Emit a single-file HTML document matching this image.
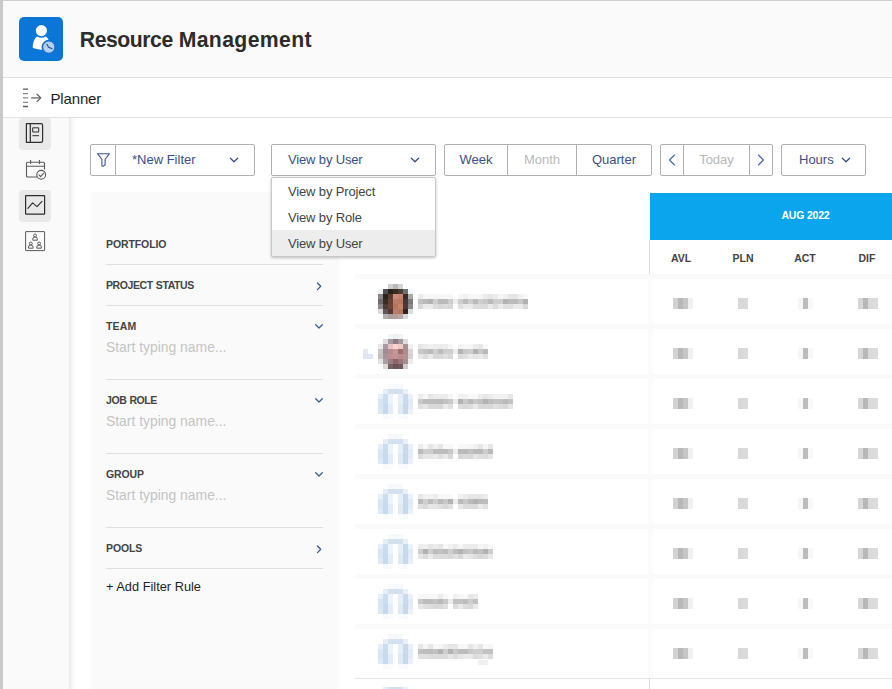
<!DOCTYPE html>
<html><head><meta charset="utf-8">
<style>
*{box-sizing:border-box;margin:0;padding:0}
html,body{width:892px;height:689px;overflow:hidden;background:#fff;font-family:"Liberation Sans",sans-serif;}
#root{position:relative;width:892px;height:689px;overflow:hidden;background:#fff}
.abs{position:absolute}
#leftbar{left:0;top:0;width:3px;height:689px;background:#c9c9c9}
#topbar{left:0;top:0;width:892px;height:1px;background:#cfcfcf}
#header{left:3px;top:1px;width:889px;height:77px;background:#fafafa;border-bottom:1px solid #e1e1e1}
#appicon{left:19px;top:17px;width:44px;height:44px;border-radius:5px;background:#0a76d8}
#title{left:79.8px;top:27px;font-size:21.2px;font-weight:bold;color:#2c2c2c;white-space:nowrap;line-height:26px}
#planbar{left:3px;top:78px;width:889px;height:40px;background:#fff;border-bottom:1px solid #e1e1e1}
#planner{left:50.5px;top:90px;font-size:15px;color:#1e1e1e;line-height:18px;letter-spacing:-0.15px}
#side{left:3px;top:118px;width:66px;height:571px;background:#fafafa}
#sideshadow{left:69px;top:118px;width:7px;height:571px;background:linear-gradient(to right,rgba(0,0,0,.09),rgba(0,0,0,.03) 40%,rgba(0,0,0,0))}
.sbtn{left:19px;width:32px;height:32px;border-radius:4px;background:#e9e9e9}
.btn{top:144px;height:32px;border:1px solid #b0b0b0;background:#fff;border-radius:2px;font-size:13px;color:#3b4f85;line-height:30px;white-space:nowrap}
.btn span{position:absolute;top:0}
.dis{color:#b8b8b8}
#fpanel{left:91px;top:192px;width:248px;height:497px;background:#fafafa}
.flabel{left:106px;font-size:10.5px;font-weight:bold;color:#444;line-height:12px;letter-spacing:-0.1px}
.fline{left:106px;width:217px;height:1px;background:#dfdfdf}
.fph{left:106px;font-size:13.9px;color:#c4c4c4;line-height:16px}
#menu{left:271px;top:177px;width:165px;height:80px;background:#fff;border:1px solid #c9c9c9;border-radius:2px;box-shadow:0 1px 3px rgba(0,0,0,.25)}
.mi{left:0;width:163px;height:26px;font-size:13px;color:#444;line-height:27px;padding-left:16px;letter-spacing:-0.15px}
#bluehd{left:650px;top:193px;width:242px;height:47px;background:#0ba5ee}
#aug{left:650px;top:193px;width:311px;text-align:center;font-size:10.5px;font-weight:bold;color:#fff;line-height:45px;letter-spacing:-0.2px}
.col{top:252px;width:62px;text-align:center;font-size:10.5px;font-weight:bold;color:#444;line-height:13px}
</style></head><body><div id="root">
<div class="abs" id="header"></div>
<div class="abs" id="planbar"></div>
<div class="abs" id="topbar"></div>
<div class="abs" id="appicon">
<svg width="44" height="44" viewBox="0 0 44 44">
<circle cx="22.4" cy="13.6" r="5.6" fill="#fff"/>
<path d="M13.7 30.2 C14 25 15.6 21 18.2 19.6 C20.6 21.2 24.2 21.2 26.6 19.6 C29.6 21 31 25.5 31 31 L31 33.5 C25 33.3 19 32.6 13.9 31 Z" fill="#fff"/>
<circle cx="29.8" cy="30.1" r="7.3" fill="#0a76d8"/>
<circle cx="29.8" cy="30.1" r="6.1" fill="#b1d0f3" stroke="#1a63b8" stroke-width="0.9"/>
<path d="M27.9 27.2 L29.6 30.2 L33.1 31.7" fill="none" stroke="#1f4f8c" stroke-width="1.1" stroke-linecap="round" stroke-linejoin="round"/>
</svg></div>
<div class="abs" id="title"><span style="letter-spacing:-0.45px">Resource</span> <span style="letter-spacing:0.38px">Management</span></div>
<svg class="abs" style="left:14px;top:80px" width="50" height="36" viewBox="0 0 50 36">
<g fill="none">
<path d="M9 9.2h5M9 26.5h5" stroke="#5c5c5c" stroke-width="1.3"/>
<path d="M9 13.6h5M9 17.9h5M9 22.3h5" stroke="#8c8c8c" stroke-width="1.3"/>
<path d="M17.2 17.9h9.2" stroke="#8a8a8a" stroke-width="1.7"/>
<path d="M23 14.3l3.800000000000001 3.6l-3.800000000000001 3.6999999999999997" stroke="#5c5c5c" stroke-width="1.2" stroke-linejoin="round" stroke-linecap="round"/>
</g></svg>
<div class="abs" id="planner">Planner</div>
<div class="abs" id="side"></div><div class="abs" id="sideshadow"></div>
<div class="abs sbtn" style="top:118px"></div>
<div class="abs sbtn" style="top:190px"></div>
<!-- side icons -->
<svg class="abs" style="left:19px;top:118px" width="32" height="140" viewBox="0 0 32 140">
<g fill="none" stroke="#2d2d2d" stroke-width="1.2" stroke-linejoin="round">
<path d="M7.4 5.6h14.6a1.6 1.6 0 0 1 1.6 1.6v15.6a1.6 1.6 0 0 1 -1.6 1.6h-14.6z"/>
<path d="M11.3 5.6v18.8"/>
<rect x="13.7" y="9.8" width="6" height="4.2" stroke-width="1"/>
<path d="M13.4 17.7h6.6" stroke-width="1"/>
</g>
<g fill="none" stroke="#5a5a5a" stroke-width="1.1" stroke-linejoin="round" transform="translate(0,1.5)">
<path d="M25.5 50v-6.2a1 1 0 0 0 -1-1h-16a1 1 0 0 0 -1 1v12.7a1 1 0 0 0 1 1h9.5"/>
<path d="M11.6 40.5v4M20.5 40.5v4M7.5 46.7h18"/>
<circle cx="22.2" cy="55.3" r="4.4" fill="#fafafa"/>
<path d="M20 55.4l1.6 1.7l3-3.3" stroke-linecap="round"/>
</g>
<g fill="none" stroke="#2d2d2d" stroke-width="1.2" stroke-linejoin="round">
<rect x="6.6" y="77.6" width="19" height="18.6" rx="0.4"/>
<path d="M8.9 90.3l4.7-5.5l4.4 3.8l5-5.2" stroke-width="1.1" stroke-linecap="round"/>
</g>
<g fill="none" stroke="#5a5a5a" stroke-width="1" stroke-linejoin="round">
<rect x="6.6" y="113.6" width="19" height="19" rx="0.4"/>
<circle cx="16.05" cy="117.5" r="1.45"/><path d="M13.75 122.2v-1.1a2.3 2.1 0 0 1 4.6 0v1.1z"/><circle cx="11.8" cy="125.5" r="1.45"/><path d="M9.5 130.2v-1.1a2.3 2.1 0 0 1 4.6 0v1.1z"/><circle cx="20.1" cy="125.5" r="1.45"/><path d="M17.8 130.2v-1.1a2.3 2.1 0 0 1 4.6 0v1.1z"/>
</g>
</svg>
<!-- filter panel -->
<div class="abs" id="fpanel"></div>
<div class="abs flabel" style="top:238px">PORTFOLIO</div>
<div class="abs fline" style="top:264px"></div>
<div class="abs flabel" style="top:279px;letter-spacing:-0.4px;word-spacing:0.5px">PROJECT STATUS</div>
<div class="abs fline" style="top:305px"></div>
<div class="abs flabel" style="top:320px;letter-spacing:0.15px">TEAM</div>
<div class="abs fph" style="top:339px">Start typing name...</div>
<div class="abs fline" style="top:379px"></div>
<div class="abs flabel" style="top:394px;letter-spacing:-0.4px;word-spacing:0.5px">JOB ROLE</div>
<div class="abs fph" style="top:413px">Start typing name...</div>
<div class="abs fline" style="top:453px"></div>
<div class="abs flabel" style="top:468px">GROUP</div>
<div class="abs fph" style="top:487px">Start typing name...</div>
<div class="abs fline" style="top:527px"></div>
<div class="abs flabel" style="top:542px">POOLS</div>
<div class="abs fline" style="top:568px"></div>
<div class="abs" style="left:106px;top:578.6px;font-size:12.8px;color:#1e1e1e;line-height:16px">+ Add Filter Rule</div>
<svg class="abs" style="left:310px;top:276px" width="18" height="290" viewBox="0 0 18 290">
<g fill="none" stroke="#3a5a98" stroke-width="1.3" stroke-linecap="round" stroke-linejoin="round">
<path d="M7.5 7l3.2 3.300000000000001l-3.2 3.300000000000001"/>
<path d="M5.7 48.800000000000004l3.3 3.2l3.3-3.2"/>
<path d="M5.7 122.80000000000001l3.3 3.2l3.3-3.2"/>
<path d="M5.7 196.8l3.3 3.2l3.3-3.2"/>
<path d="M7.5 270l3.2 3.300000000000001l-3.2 3.300000000000001"/>
</g></svg>
<!-- table -->
<div class="abs" style="left:648px;top:276px;width:5px;height:402px;background:#fbfbfb"></div>
<div class="abs" style="left:355px;top:678px;width:537px;height:1px;background:#e6e6e6"></div>
<div class="abs" style="left:649px;top:678px;width:1px;height:11px;background:#d6d6d6"></div>
<div class="abs" style="left:649px;top:240px;width:1px;height:36px;background:#dcdcdc"></div>
<svg class="abs" style="left:0;top:0" width="892" height="689" viewBox="0 0 892 689" shape-rendering="crispEdges">
<g filter="url(#bl)">
<rect x="355" y="274" width="537" height="5" fill="#fafafa"/><rect x="355" y="324" width="537" height="5" fill="#fafafa"/><rect x="355" y="374" width="537" height="5" fill="#fafafa"/><rect x="355" y="424" width="537" height="5" fill="#fafafa"/><rect x="355" y="474" width="537" height="5" fill="#fafafa"/><rect x="355" y="524" width="537" height="5" fill="#fafafa"/><rect x="355" y="574" width="537" height="5" fill="#fafafa"/><rect x="355" y="624" width="537" height="5" fill="#fafafa"/><rect x="388" y="284" width="5" height="5" fill="#d0d0d0"/><rect x="393" y="284" width="5" height="5" fill="#b8b8b8"/><rect x="398" y="284" width="5" height="5" fill="#d4d4d4"/><rect x="378" y="289" width="5" height="5" fill="#f0f0f0"/><rect x="383" y="289" width="5" height="5" fill="#505050"/><rect x="388" y="289" width="5" height="5" fill="#2a2018"/><rect x="393" y="289" width="5" height="5" fill="#3a2a22"/><rect x="398" y="289" width="5" height="5" fill="#4a3a34"/><rect x="403" y="289" width="5" height="5" fill="#707070"/><rect x="408" y="289" width="5" height="5" fill="#f4f4f4"/><rect x="378" y="294" width="5" height="5" fill="#8a8686"/><rect x="383" y="294" width="5" height="5" fill="#2a201c"/><rect x="388" y="294" width="5" height="5" fill="#5a3a30"/><rect x="393" y="294" width="5" height="5" fill="#c88c78"/><rect x="398" y="294" width="5" height="5" fill="#c08470"/><rect x="403" y="294" width="5" height="5" fill="#3a2a26"/><rect x="408" y="294" width="5" height="5" fill="#a8a8a8"/><rect x="378" y="299" width="5" height="5" fill="#6e6a6a"/><rect x="383" y="299" width="5" height="5" fill="#3a2c28"/><rect x="388" y="299" width="5" height="5" fill="#6a4030"/><rect x="393" y="299" width="5" height="5" fill="#b87c68"/><rect x="398" y="299" width="5" height="5" fill="#b87864"/><rect x="403" y="299" width="5" height="5" fill="#4a3430"/><rect x="408" y="299" width="5" height="5" fill="#7a7a7a"/><rect x="378" y="304" width="5" height="5" fill="#8c8888"/><rect x="383" y="304" width="5" height="5" fill="#4a3c36"/><rect x="388" y="304" width="5" height="5" fill="#6e4434"/><rect x="393" y="304" width="5" height="5" fill="#b4745e"/><rect x="398" y="304" width="5" height="5" fill="#c4846c"/><rect x="403" y="304" width="5" height="5" fill="#503834"/><rect x="408" y="304" width="5" height="5" fill="#8a8a8a"/><rect x="378" y="309" width="5" height="5" fill="#dcdada"/><rect x="383" y="309" width="5" height="5" fill="#605654"/><rect x="388" y="309" width="5" height="5" fill="#5a3630"/><rect x="393" y="309" width="5" height="5" fill="#b87e6a"/><rect x="398" y="309" width="5" height="5" fill="#b47862"/><rect x="403" y="309" width="5" height="5" fill="#302422"/><rect x="408" y="309" width="5" height="5" fill="#dcdcdc"/><rect x="383" y="314" width="5" height="5" fill="#b0b0b0"/><rect x="388" y="314" width="5" height="5" fill="#a8a0a0"/><rect x="393" y="314" width="5" height="5" fill="#b49c94"/><rect x="398" y="314" width="5" height="5" fill="#b4a8a4"/><rect x="403" y="314" width="5" height="5" fill="#d8d8d8"/><rect x="388" y="334" width="5" height="5" fill="#f4f4f4"/><rect x="393" y="334" width="5" height="5" fill="#f0f0f0"/><rect x="398" y="334" width="5" height="5" fill="#f4f4f4"/><rect x="383" y="339" width="5" height="5" fill="#e0dce0"/><rect x="388" y="339" width="5" height="5" fill="#a898a0"/><rect x="393" y="339" width="5" height="5" fill="#8c7c84"/><rect x="398" y="339" width="5" height="5" fill="#a898a0"/><rect x="403" y="339" width="5" height="5" fill="#e0dce0"/><rect x="378" y="344" width="5" height="5" fill="#e8e8e8"/><rect x="383" y="344" width="5" height="5" fill="#a49ca0"/><rect x="388" y="344" width="5" height="5" fill="#e8c0c0"/><rect x="393" y="344" width="5" height="5" fill="#f8d4d0"/><rect x="398" y="344" width="5" height="5" fill="#f0c8c4"/><rect x="403" y="344" width="5" height="5" fill="#a89094"/><rect x="408" y="344" width="5" height="5" fill="#f0f0f0"/><rect x="378" y="349" width="5" height="5" fill="#c8c4c8"/><rect x="383" y="349" width="5" height="5" fill="#a08c90"/><rect x="388" y="349" width="5" height="5" fill="#b88c8c"/><rect x="393" y="349" width="5" height="5" fill="#c49894"/><rect x="398" y="349" width="5" height="5" fill="#9c7070"/><rect x="403" y="349" width="5" height="5" fill="#b08c8c"/><rect x="408" y="349" width="5" height="5" fill="#d8d4d8"/><rect x="378" y="354" width="5" height="5" fill="#c4c0c4"/><rect x="383" y="354" width="5" height="5" fill="#a89498"/><rect x="388" y="354" width="5" height="5" fill="#c09090"/><rect x="393" y="354" width="5" height="5" fill="#c09494"/><rect x="398" y="354" width="5" height="5" fill="#bc8c8c"/><rect x="403" y="354" width="5" height="5" fill="#b89090"/><rect x="408" y="354" width="5" height="5" fill="#d4d0d4"/><rect x="378" y="359" width="5" height="5" fill="#e4e4e4"/><rect x="383" y="359" width="5" height="5" fill="#a8a0a4"/><rect x="388" y="359" width="5" height="5" fill="#9c7c80"/><rect x="393" y="359" width="5" height="5" fill="#8c6468"/><rect x="398" y="359" width="5" height="5" fill="#9c7478"/><rect x="403" y="359" width="5" height="5" fill="#a49094"/><rect x="408" y="359" width="5" height="5" fill="#ececec"/><rect x="383" y="364" width="5" height="5" fill="#dcdcdc"/><rect x="388" y="364" width="5" height="5" fill="#74646a"/><rect x="393" y="364" width="5" height="5" fill="#6c5258"/><rect x="398" y="364" width="5" height="5" fill="#70585e"/><rect x="403" y="364" width="5" height="5" fill="#d0ccd0"/><rect x="388" y="384" width="5" height="5" fill="#f7fafd"/><rect x="393" y="384" width="5" height="5" fill="#f6f9fc"/><rect x="398" y="384" width="5" height="5" fill="#f7fafd"/><rect x="383" y="389" width="5" height="5" fill="#e6edf6"/><rect x="388" y="389" width="5" height="5" fill="#d5e1ee"/><rect x="393" y="389" width="5" height="5" fill="#d3e0ed"/><rect x="398" y="389" width="5" height="5" fill="#d5e1ee"/><rect x="403" y="389" width="5" height="5" fill="#e9f0f7"/><rect x="378" y="394" width="5" height="5" fill="#e6eef7"/><rect x="383" y="394" width="5" height="5" fill="#ccdded"/><rect x="388" y="394" width="5" height="5" fill="#eef3fa"/><rect x="398" y="394" width="5" height="5" fill="#e6eef7"/><rect x="403" y="394" width="5" height="5" fill="#c9daec"/><rect x="408" y="394" width="5" height="5" fill="#ecf1f9"/><rect x="378" y="399" width="5" height="5" fill="#d7e4f1"/><rect x="383" y="399" width="5" height="5" fill="#c9dced"/><rect x="388" y="399" width="5" height="5" fill="#eef3fa"/><rect x="398" y="399" width="5" height="5" fill="#e6eef7"/><rect x="403" y="399" width="5" height="5" fill="#c9daec"/><rect x="408" y="399" width="5" height="5" fill="#e0eaf4"/><rect x="378" y="404" width="5" height="5" fill="#d7e4f1"/><rect x="383" y="404" width="5" height="5" fill="#c6daed"/><rect x="388" y="404" width="5" height="5" fill="#e6ecf6"/><rect x="398" y="404" width="5" height="5" fill="#e0eaf4"/><rect x="403" y="404" width="5" height="5" fill="#c6d9ea"/><rect x="408" y="404" width="5" height="5" fill="#e3ecf6"/><rect x="378" y="409" width="5" height="5" fill="#dde9f3"/><rect x="383" y="409" width="5" height="5" fill="#c6daed"/><rect x="388" y="409" width="5" height="5" fill="#e6ecf6"/><rect x="398" y="409" width="5" height="5" fill="#e0eaf4"/><rect x="403" y="409" width="5" height="5" fill="#c6d9ea"/><rect x="408" y="409" width="5" height="5" fill="#ecf1f9"/><rect x="383" y="414" width="5" height="5" fill="#f7f9fc"/><rect x="388" y="414" width="5" height="5" fill="#fafbfd"/><rect x="398" y="414" width="5" height="5" fill="#fafbfd"/><rect x="403" y="414" width="5" height="5" fill="#f7f9fc"/><rect x="388" y="434" width="5" height="5" fill="#f7fafd"/><rect x="393" y="434" width="5" height="5" fill="#f6f9fc"/><rect x="398" y="434" width="5" height="5" fill="#f7fafd"/><rect x="383" y="439" width="5" height="5" fill="#e6edf6"/><rect x="388" y="439" width="5" height="5" fill="#d5e1ee"/><rect x="393" y="439" width="5" height="5" fill="#d3e0ed"/><rect x="398" y="439" width="5" height="5" fill="#d5e1ee"/><rect x="403" y="439" width="5" height="5" fill="#e9f0f7"/><rect x="378" y="444" width="5" height="5" fill="#e6eef7"/><rect x="383" y="444" width="5" height="5" fill="#ccdded"/><rect x="388" y="444" width="5" height="5" fill="#eef3fa"/><rect x="398" y="444" width="5" height="5" fill="#e6eef7"/><rect x="403" y="444" width="5" height="5" fill="#c9daec"/><rect x="408" y="444" width="5" height="5" fill="#ecf1f9"/><rect x="378" y="449" width="5" height="5" fill="#d7e4f1"/><rect x="383" y="449" width="5" height="5" fill="#c9dced"/><rect x="388" y="449" width="5" height="5" fill="#eef3fa"/><rect x="398" y="449" width="5" height="5" fill="#e6eef7"/><rect x="403" y="449" width="5" height="5" fill="#c9daec"/><rect x="408" y="449" width="5" height="5" fill="#e0eaf4"/><rect x="378" y="454" width="5" height="5" fill="#d7e4f1"/><rect x="383" y="454" width="5" height="5" fill="#c6daed"/><rect x="388" y="454" width="5" height="5" fill="#e6ecf6"/><rect x="398" y="454" width="5" height="5" fill="#e0eaf4"/><rect x="403" y="454" width="5" height="5" fill="#c6d9ea"/><rect x="408" y="454" width="5" height="5" fill="#e3ecf6"/><rect x="378" y="459" width="5" height="5" fill="#dde9f3"/><rect x="383" y="459" width="5" height="5" fill="#c6daed"/><rect x="388" y="459" width="5" height="5" fill="#e6ecf6"/><rect x="398" y="459" width="5" height="5" fill="#e0eaf4"/><rect x="403" y="459" width="5" height="5" fill="#c6d9ea"/><rect x="408" y="459" width="5" height="5" fill="#ecf1f9"/><rect x="383" y="464" width="5" height="5" fill="#f7f9fc"/><rect x="388" y="464" width="5" height="5" fill="#fafbfd"/><rect x="398" y="464" width="5" height="5" fill="#fafbfd"/><rect x="403" y="464" width="5" height="5" fill="#f7f9fc"/><rect x="388" y="484" width="5" height="5" fill="#f7fafd"/><rect x="393" y="484" width="5" height="5" fill="#f6f9fc"/><rect x="398" y="484" width="5" height="5" fill="#f7fafd"/><rect x="383" y="489" width="5" height="5" fill="#e6edf6"/><rect x="388" y="489" width="5" height="5" fill="#d5e1ee"/><rect x="393" y="489" width="5" height="5" fill="#d3e0ed"/><rect x="398" y="489" width="5" height="5" fill="#d5e1ee"/><rect x="403" y="489" width="5" height="5" fill="#e9f0f7"/><rect x="378" y="494" width="5" height="5" fill="#e6eef7"/><rect x="383" y="494" width="5" height="5" fill="#ccdded"/><rect x="388" y="494" width="5" height="5" fill="#eef3fa"/><rect x="398" y="494" width="5" height="5" fill="#e6eef7"/><rect x="403" y="494" width="5" height="5" fill="#c9daec"/><rect x="408" y="494" width="5" height="5" fill="#ecf1f9"/><rect x="378" y="499" width="5" height="5" fill="#d7e4f1"/><rect x="383" y="499" width="5" height="5" fill="#c9dced"/><rect x="388" y="499" width="5" height="5" fill="#eef3fa"/><rect x="398" y="499" width="5" height="5" fill="#e6eef7"/><rect x="403" y="499" width="5" height="5" fill="#c9daec"/><rect x="408" y="499" width="5" height="5" fill="#e0eaf4"/><rect x="378" y="504" width="5" height="5" fill="#d7e4f1"/><rect x="383" y="504" width="5" height="5" fill="#c6daed"/><rect x="388" y="504" width="5" height="5" fill="#e6ecf6"/><rect x="398" y="504" width="5" height="5" fill="#e0eaf4"/><rect x="403" y="504" width="5" height="5" fill="#c6d9ea"/><rect x="408" y="504" width="5" height="5" fill="#e3ecf6"/><rect x="378" y="509" width="5" height="5" fill="#dde9f3"/><rect x="383" y="509" width="5" height="5" fill="#c6daed"/><rect x="388" y="509" width="5" height="5" fill="#e6ecf6"/><rect x="398" y="509" width="5" height="5" fill="#e0eaf4"/><rect x="403" y="509" width="5" height="5" fill="#c6d9ea"/><rect x="408" y="509" width="5" height="5" fill="#ecf1f9"/><rect x="383" y="514" width="5" height="5" fill="#f7f9fc"/><rect x="388" y="514" width="5" height="5" fill="#fafbfd"/><rect x="398" y="514" width="5" height="5" fill="#fafbfd"/><rect x="403" y="514" width="5" height="5" fill="#f7f9fc"/><rect x="388" y="534" width="5" height="5" fill="#f7fafd"/><rect x="393" y="534" width="5" height="5" fill="#f6f9fc"/><rect x="398" y="534" width="5" height="5" fill="#f7fafd"/><rect x="383" y="539" width="5" height="5" fill="#e6edf6"/><rect x="388" y="539" width="5" height="5" fill="#d5e1ee"/><rect x="393" y="539" width="5" height="5" fill="#d3e0ed"/><rect x="398" y="539" width="5" height="5" fill="#d5e1ee"/><rect x="403" y="539" width="5" height="5" fill="#e9f0f7"/><rect x="378" y="544" width="5" height="5" fill="#e6eef7"/><rect x="383" y="544" width="5" height="5" fill="#ccdded"/><rect x="388" y="544" width="5" height="5" fill="#eef3fa"/><rect x="398" y="544" width="5" height="5" fill="#e6eef7"/><rect x="403" y="544" width="5" height="5" fill="#c9daec"/><rect x="408" y="544" width="5" height="5" fill="#ecf1f9"/><rect x="378" y="549" width="5" height="5" fill="#d7e4f1"/><rect x="383" y="549" width="5" height="5" fill="#c9dced"/><rect x="388" y="549" width="5" height="5" fill="#eef3fa"/><rect x="398" y="549" width="5" height="5" fill="#e6eef7"/><rect x="403" y="549" width="5" height="5" fill="#c9daec"/><rect x="408" y="549" width="5" height="5" fill="#e0eaf4"/><rect x="378" y="554" width="5" height="5" fill="#d7e4f1"/><rect x="383" y="554" width="5" height="5" fill="#c6daed"/><rect x="388" y="554" width="5" height="5" fill="#e6ecf6"/><rect x="398" y="554" width="5" height="5" fill="#e0eaf4"/><rect x="403" y="554" width="5" height="5" fill="#c6d9ea"/><rect x="408" y="554" width="5" height="5" fill="#e3ecf6"/><rect x="378" y="559" width="5" height="5" fill="#dde9f3"/><rect x="383" y="559" width="5" height="5" fill="#c6daed"/><rect x="388" y="559" width="5" height="5" fill="#e6ecf6"/><rect x="398" y="559" width="5" height="5" fill="#e0eaf4"/><rect x="403" y="559" width="5" height="5" fill="#c6d9ea"/><rect x="408" y="559" width="5" height="5" fill="#ecf1f9"/><rect x="383" y="564" width="5" height="5" fill="#f7f9fc"/><rect x="388" y="564" width="5" height="5" fill="#fafbfd"/><rect x="398" y="564" width="5" height="5" fill="#fafbfd"/><rect x="403" y="564" width="5" height="5" fill="#f7f9fc"/><rect x="388" y="584" width="5" height="5" fill="#f7fafd"/><rect x="393" y="584" width="5" height="5" fill="#f6f9fc"/><rect x="398" y="584" width="5" height="5" fill="#f7fafd"/><rect x="383" y="589" width="5" height="5" fill="#e6edf6"/><rect x="388" y="589" width="5" height="5" fill="#d5e1ee"/><rect x="393" y="589" width="5" height="5" fill="#d3e0ed"/><rect x="398" y="589" width="5" height="5" fill="#d5e1ee"/><rect x="403" y="589" width="5" height="5" fill="#e9f0f7"/><rect x="378" y="594" width="5" height="5" fill="#e6eef7"/><rect x="383" y="594" width="5" height="5" fill="#ccdded"/><rect x="388" y="594" width="5" height="5" fill="#eef3fa"/><rect x="398" y="594" width="5" height="5" fill="#e6eef7"/><rect x="403" y="594" width="5" height="5" fill="#c9daec"/><rect x="408" y="594" width="5" height="5" fill="#ecf1f9"/><rect x="378" y="599" width="5" height="5" fill="#d7e4f1"/><rect x="383" y="599" width="5" height="5" fill="#c9dced"/><rect x="388" y="599" width="5" height="5" fill="#eef3fa"/><rect x="398" y="599" width="5" height="5" fill="#e6eef7"/><rect x="403" y="599" width="5" height="5" fill="#c9daec"/><rect x="408" y="599" width="5" height="5" fill="#e0eaf4"/><rect x="378" y="604" width="5" height="5" fill="#d7e4f1"/><rect x="383" y="604" width="5" height="5" fill="#c6daed"/><rect x="388" y="604" width="5" height="5" fill="#e6ecf6"/><rect x="398" y="604" width="5" height="5" fill="#e0eaf4"/><rect x="403" y="604" width="5" height="5" fill="#c6d9ea"/><rect x="408" y="604" width="5" height="5" fill="#e3ecf6"/><rect x="378" y="609" width="5" height="5" fill="#dde9f3"/><rect x="383" y="609" width="5" height="5" fill="#c6daed"/><rect x="388" y="609" width="5" height="5" fill="#e6ecf6"/><rect x="398" y="609" width="5" height="5" fill="#e0eaf4"/><rect x="403" y="609" width="5" height="5" fill="#c6d9ea"/><rect x="408" y="609" width="5" height="5" fill="#ecf1f9"/><rect x="383" y="614" width="5" height="5" fill="#f7f9fc"/><rect x="388" y="614" width="5" height="5" fill="#fafbfd"/><rect x="398" y="614" width="5" height="5" fill="#fafbfd"/><rect x="403" y="614" width="5" height="5" fill="#f7f9fc"/><rect x="388" y="634" width="5" height="5" fill="#f7fafd"/><rect x="393" y="634" width="5" height="5" fill="#f6f9fc"/><rect x="398" y="634" width="5" height="5" fill="#f7fafd"/><rect x="383" y="639" width="5" height="5" fill="#e6edf6"/><rect x="388" y="639" width="5" height="5" fill="#d5e1ee"/><rect x="393" y="639" width="5" height="5" fill="#d3e0ed"/><rect x="398" y="639" width="5" height="5" fill="#d5e1ee"/><rect x="403" y="639" width="5" height="5" fill="#e9f0f7"/><rect x="378" y="644" width="5" height="5" fill="#e6eef7"/><rect x="383" y="644" width="5" height="5" fill="#ccdded"/><rect x="388" y="644" width="5" height="5" fill="#eef3fa"/><rect x="398" y="644" width="5" height="5" fill="#e6eef7"/><rect x="403" y="644" width="5" height="5" fill="#c9daec"/><rect x="408" y="644" width="5" height="5" fill="#ecf1f9"/><rect x="378" y="649" width="5" height="5" fill="#d7e4f1"/><rect x="383" y="649" width="5" height="5" fill="#c9dced"/><rect x="388" y="649" width="5" height="5" fill="#eef3fa"/><rect x="398" y="649" width="5" height="5" fill="#e6eef7"/><rect x="403" y="649" width="5" height="5" fill="#c9daec"/><rect x="408" y="649" width="5" height="5" fill="#e0eaf4"/><rect x="378" y="654" width="5" height="5" fill="#d7e4f1"/><rect x="383" y="654" width="5" height="5" fill="#c6daed"/><rect x="388" y="654" width="5" height="5" fill="#e6ecf6"/><rect x="398" y="654" width="5" height="5" fill="#e0eaf4"/><rect x="403" y="654" width="5" height="5" fill="#c6d9ea"/><rect x="408" y="654" width="5" height="5" fill="#e3ecf6"/><rect x="378" y="659" width="5" height="5" fill="#dde9f3"/><rect x="383" y="659" width="5" height="5" fill="#c6daed"/><rect x="388" y="659" width="5" height="5" fill="#e6ecf6"/><rect x="398" y="659" width="5" height="5" fill="#e0eaf4"/><rect x="403" y="659" width="5" height="5" fill="#c6d9ea"/><rect x="408" y="659" width="5" height="5" fill="#ecf1f9"/><rect x="383" y="664" width="5" height="5" fill="#f7f9fc"/><rect x="388" y="664" width="5" height="5" fill="#fafbfd"/><rect x="398" y="664" width="5" height="5" fill="#fafbfd"/><rect x="403" y="664" width="5" height="5" fill="#f7f9fc"/><rect x="383" y="687" width="5" height="2" fill="#e6eef6"/><rect x="388" y="687" width="5" height="2" fill="#d4e2f0"/><rect x="393" y="687" width="5" height="2" fill="#d2e0ee"/><rect x="398" y="687" width="5" height="2" fill="#d4e2f0"/><rect x="403" y="687" width="5" height="2" fill="#e8f0f8"/><rect x="363" y="349" width="5" height="5" fill="#e4eaf4"/><rect x="363" y="354" width="10" height="5" fill="#dfe6f2"/><rect x="418" y="294" width="5" height="5" fill="#ececec"/><rect x="418" y="299" width="5" height="5" fill="#c2c2c2"/><rect x="418" y="304" width="5" height="5" fill="#d8d8d8"/><rect x="423" y="294" width="5" height="5" fill="#f6f6f6"/><rect x="423" y="299" width="5" height="5" fill="#bababa"/><rect x="423" y="304" width="5" height="5" fill="#eaeaea"/><rect x="428" y="294" width="5" height="5" fill="#f6f6f6"/><rect x="428" y="299" width="5" height="5" fill="#b2b2b2"/><rect x="428" y="304" width="5" height="5" fill="#eaeaea"/><rect x="433" y="294" width="5" height="5" fill="#f6f6f6"/><rect x="433" y="299" width="5" height="5" fill="#cecece"/><rect x="433" y="304" width="5" height="5" fill="#dcdcdc"/><rect x="438" y="294" width="5" height="5" fill="#f6f6f6"/><rect x="438" y="299" width="5" height="5" fill="#bababa"/><rect x="438" y="304" width="5" height="5" fill="#d8d8d8"/><rect x="443" y="294" width="5" height="5" fill="#f8f8f8"/><rect x="443" y="299" width="5" height="5" fill="#bababa"/><rect x="443" y="304" width="5" height="5" fill="#dcdcdc"/><rect x="448" y="294" width="5" height="5" fill="#f6f6f6"/><rect x="448" y="299" width="5" height="5" fill="#cecece"/><rect x="448" y="304" width="5" height="5" fill="#d8d8d8"/><rect x="458" y="294" width="5" height="5" fill="#f6f6f6"/><rect x="458" y="299" width="5" height="5" fill="#cecece"/><rect x="458" y="304" width="5" height="5" fill="#e0e0e0"/><rect x="463" y="294" width="5" height="5" fill="#f1f1f1"/><rect x="463" y="299" width="5" height="5" fill="#bcbcbc"/><rect x="463" y="304" width="5" height="5" fill="#eaeaea"/><rect x="468" y="294" width="5" height="5" fill="#f6f6f6"/><rect x="468" y="299" width="5" height="5" fill="#cecece"/><rect x="468" y="304" width="5" height="5" fill="#eaeaea"/><rect x="473" y="294" width="5" height="5" fill="#f8f8f8"/><rect x="473" y="299" width="5" height="5" fill="#bababa"/><rect x="473" y="304" width="5" height="5" fill="#dcdcdc"/><rect x="478" y="294" width="5" height="5" fill="#f6f6f6"/><rect x="478" y="299" width="5" height="5" fill="#cecece"/><rect x="478" y="304" width="5" height="5" fill="#dcdcdc"/><rect x="483" y="294" width="5" height="5" fill="#ececec"/><rect x="483" y="299" width="5" height="5" fill="#c8c8c8"/><rect x="483" y="304" width="5" height="5" fill="#dcdcdc"/><rect x="488" y="294" width="5" height="5" fill="#e6e6e6"/><rect x="488" y="299" width="5" height="5" fill="#bababa"/><rect x="488" y="304" width="5" height="5" fill="#eaeaea"/><rect x="493" y="294" width="5" height="5" fill="#ececec"/><rect x="493" y="299" width="5" height="5" fill="#cecece"/><rect x="493" y="304" width="5" height="5" fill="#dcdcdc"/><rect x="498" y="294" width="5" height="5" fill="#f6f6f6"/><rect x="498" y="299" width="5" height="5" fill="#cecece"/><rect x="498" y="304" width="5" height="5" fill="#eaeaea"/><rect x="503" y="294" width="5" height="5" fill="#f1f1f1"/><rect x="503" y="299" width="5" height="5" fill="#b2b2b2"/><rect x="503" y="304" width="5" height="5" fill="#e0e0e0"/><rect x="508" y="294" width="5" height="5" fill="#e6e6e6"/><rect x="508" y="299" width="5" height="5" fill="#bcbcbc"/><rect x="508" y="304" width="5" height="5" fill="#e0e0e0"/><rect x="513" y="294" width="5" height="5" fill="#e6e6e6"/><rect x="513" y="299" width="5" height="5" fill="#bababa"/><rect x="513" y="304" width="5" height="5" fill="#eaeaea"/><rect x="518" y="294" width="5" height="5" fill="#f1f1f1"/><rect x="518" y="299" width="5" height="5" fill="#c8c8c8"/><rect x="518" y="304" width="5" height="5" fill="#eaeaea"/><rect x="523" y="294" width="5" height="5" fill="#f8f8f8"/><rect x="523" y="299" width="5" height="5" fill="#b2b2b2"/><rect x="523" y="304" width="5" height="5" fill="#d8d8d8"/><rect x="453" y="299" width="5" height="5" fill="#ececec"/><rect x="418" y="344" width="5" height="5" fill="#e6e6e6"/><rect x="418" y="349" width="5" height="5" fill="#c8c8c8"/><rect x="418" y="354" width="5" height="5" fill="#e6e6e6"/><rect x="423" y="344" width="5" height="5" fill="#ececec"/><rect x="423" y="349" width="5" height="5" fill="#c2c2c2"/><rect x="423" y="354" width="5" height="5" fill="#dcdcdc"/><rect x="428" y="344" width="5" height="5" fill="#f1f1f1"/><rect x="428" y="349" width="5" height="5" fill="#bababa"/><rect x="428" y="354" width="5" height="5" fill="#eaeaea"/><rect x="433" y="344" width="5" height="5" fill="#ececec"/><rect x="433" y="349" width="5" height="5" fill="#cecece"/><rect x="433" y="354" width="5" height="5" fill="#d8d8d8"/><rect x="438" y="344" width="5" height="5" fill="#ececec"/><rect x="438" y="349" width="5" height="5" fill="#bcbcbc"/><rect x="438" y="354" width="5" height="5" fill="#d8d8d8"/><rect x="443" y="344" width="5" height="5" fill="#ececec"/><rect x="443" y="349" width="5" height="5" fill="#cecece"/><rect x="443" y="354" width="5" height="5" fill="#e0e0e0"/><rect x="448" y="344" width="5" height="5" fill="#f6f6f6"/><rect x="448" y="349" width="5" height="5" fill="#cecece"/><rect x="448" y="354" width="5" height="5" fill="#d8d8d8"/><rect x="458" y="344" width="5" height="5" fill="#f1f1f1"/><rect x="458" y="349" width="5" height="5" fill="#b2b2b2"/><rect x="458" y="354" width="5" height="5" fill="#dcdcdc"/><rect x="463" y="344" width="5" height="5" fill="#f8f8f8"/><rect x="463" y="349" width="5" height="5" fill="#c8c8c8"/><rect x="463" y="354" width="5" height="5" fill="#e0e0e0"/><rect x="468" y="344" width="5" height="5" fill="#f6f6f6"/><rect x="468" y="349" width="5" height="5" fill="#cecece"/><rect x="468" y="354" width="5" height="5" fill="#eaeaea"/><rect x="473" y="344" width="5" height="5" fill="#ececec"/><rect x="473" y="349" width="5" height="5" fill="#b2b2b2"/><rect x="473" y="354" width="5" height="5" fill="#e6e6e6"/><rect x="478" y="344" width="5" height="5" fill="#e6e6e6"/><rect x="478" y="349" width="5" height="5" fill="#c8c8c8"/><rect x="478" y="354" width="5" height="5" fill="#eaeaea"/><rect x="483" y="344" width="5" height="5" fill="#f8f8f8"/><rect x="483" y="349" width="5" height="5" fill="#bababa"/><rect x="483" y="354" width="5" height="5" fill="#e0e0e0"/><rect x="453" y="349" width="5" height="5" fill="#ececec"/><rect x="418" y="394" width="5" height="5" fill="#ececec"/><rect x="418" y="399" width="5" height="5" fill="#c8c8c8"/><rect x="418" y="404" width="5" height="5" fill="#e0e0e0"/><rect x="423" y="394" width="5" height="5" fill="#f6f6f6"/><rect x="423" y="399" width="5" height="5" fill="#bcbcbc"/><rect x="423" y="404" width="5" height="5" fill="#e6e6e6"/><rect x="428" y="394" width="5" height="5" fill="#e6e6e6"/><rect x="428" y="399" width="5" height="5" fill="#bcbcbc"/><rect x="428" y="404" width="5" height="5" fill="#d8d8d8"/><rect x="433" y="394" width="5" height="5" fill="#ececec"/><rect x="433" y="399" width="5" height="5" fill="#bcbcbc"/><rect x="433" y="404" width="5" height="5" fill="#d8d8d8"/><rect x="438" y="394" width="5" height="5" fill="#ececec"/><rect x="438" y="399" width="5" height="5" fill="#bababa"/><rect x="438" y="404" width="5" height="5" fill="#d8d8d8"/><rect x="443" y="394" width="5" height="5" fill="#ececec"/><rect x="443" y="399" width="5" height="5" fill="#c2c2c2"/><rect x="443" y="404" width="5" height="5" fill="#eaeaea"/><rect x="448" y="394" width="5" height="5" fill="#f6f6f6"/><rect x="448" y="399" width="5" height="5" fill="#c8c8c8"/><rect x="448" y="404" width="5" height="5" fill="#e0e0e0"/><rect x="458" y="394" width="5" height="5" fill="#f1f1f1"/><rect x="458" y="399" width="5" height="5" fill="#b2b2b2"/><rect x="458" y="404" width="5" height="5" fill="#dcdcdc"/><rect x="463" y="394" width="5" height="5" fill="#f1f1f1"/><rect x="463" y="399" width="5" height="5" fill="#c8c8c8"/><rect x="463" y="404" width="5" height="5" fill="#d8d8d8"/><rect x="468" y="394" width="5" height="5" fill="#f8f8f8"/><rect x="468" y="399" width="5" height="5" fill="#bababa"/><rect x="468" y="404" width="5" height="5" fill="#dcdcdc"/><rect x="473" y="394" width="5" height="5" fill="#f8f8f8"/><rect x="473" y="399" width="5" height="5" fill="#c8c8c8"/><rect x="473" y="404" width="5" height="5" fill="#eaeaea"/><rect x="478" y="394" width="5" height="5" fill="#ececec"/><rect x="478" y="399" width="5" height="5" fill="#c2c2c2"/><rect x="478" y="404" width="5" height="5" fill="#d8d8d8"/><rect x="483" y="394" width="5" height="5" fill="#e6e6e6"/><rect x="483" y="399" width="5" height="5" fill="#b2b2b2"/><rect x="483" y="404" width="5" height="5" fill="#d8d8d8"/><rect x="488" y="394" width="5" height="5" fill="#ececec"/><rect x="488" y="399" width="5" height="5" fill="#bcbcbc"/><rect x="488" y="404" width="5" height="5" fill="#d8d8d8"/><rect x="493" y="394" width="5" height="5" fill="#f1f1f1"/><rect x="493" y="399" width="5" height="5" fill="#c2c2c2"/><rect x="493" y="404" width="5" height="5" fill="#e0e0e0"/><rect x="498" y="394" width="5" height="5" fill="#f1f1f1"/><rect x="498" y="399" width="5" height="5" fill="#c2c2c2"/><rect x="498" y="404" width="5" height="5" fill="#dcdcdc"/><rect x="503" y="394" width="5" height="5" fill="#f1f1f1"/><rect x="503" y="399" width="5" height="5" fill="#bababa"/><rect x="503" y="404" width="5" height="5" fill="#d8d8d8"/><rect x="508" y="394" width="5" height="5" fill="#e6e6e6"/><rect x="508" y="399" width="5" height="5" fill="#c2c2c2"/><rect x="508" y="404" width="5" height="5" fill="#e6e6e6"/><rect x="453" y="399" width="5" height="5" fill="#ececec"/><rect x="418" y="444" width="5" height="5" fill="#ececec"/><rect x="418" y="449" width="5" height="5" fill="#bababa"/><rect x="418" y="454" width="5" height="5" fill="#dcdcdc"/><rect x="423" y="444" width="5" height="5" fill="#f8f8f8"/><rect x="423" y="449" width="5" height="5" fill="#cecece"/><rect x="423" y="454" width="5" height="5" fill="#e6e6e6"/><rect x="428" y="444" width="5" height="5" fill="#e6e6e6"/><rect x="428" y="449" width="5" height="5" fill="#cecece"/><rect x="428" y="454" width="5" height="5" fill="#e6e6e6"/><rect x="433" y="444" width="5" height="5" fill="#f1f1f1"/><rect x="433" y="449" width="5" height="5" fill="#bcbcbc"/><rect x="433" y="454" width="5" height="5" fill="#eaeaea"/><rect x="438" y="444" width="5" height="5" fill="#e6e6e6"/><rect x="438" y="449" width="5" height="5" fill="#bcbcbc"/><rect x="438" y="454" width="5" height="5" fill="#e0e0e0"/><rect x="443" y="444" width="5" height="5" fill="#f8f8f8"/><rect x="443" y="449" width="5" height="5" fill="#bcbcbc"/><rect x="443" y="454" width="5" height="5" fill="#eaeaea"/><rect x="448" y="444" width="5" height="5" fill="#f8f8f8"/><rect x="448" y="449" width="5" height="5" fill="#c8c8c8"/><rect x="448" y="454" width="5" height="5" fill="#d8d8d8"/><rect x="458" y="444" width="5" height="5" fill="#f8f8f8"/><rect x="458" y="449" width="5" height="5" fill="#bababa"/><rect x="458" y="454" width="5" height="5" fill="#d8d8d8"/><rect x="463" y="444" width="5" height="5" fill="#f8f8f8"/><rect x="463" y="449" width="5" height="5" fill="#bababa"/><rect x="463" y="454" width="5" height="5" fill="#dcdcdc"/><rect x="468" y="444" width="5" height="5" fill="#f6f6f6"/><rect x="468" y="449" width="5" height="5" fill="#c2c2c2"/><rect x="468" y="454" width="5" height="5" fill="#d8d8d8"/><rect x="473" y="444" width="5" height="5" fill="#f1f1f1"/><rect x="473" y="449" width="5" height="5" fill="#bababa"/><rect x="473" y="454" width="5" height="5" fill="#e6e6e6"/><rect x="478" y="444" width="5" height="5" fill="#e6e6e6"/><rect x="478" y="449" width="5" height="5" fill="#bababa"/><rect x="478" y="454" width="5" height="5" fill="#e0e0e0"/><rect x="483" y="444" width="5" height="5" fill="#f6f6f6"/><rect x="483" y="449" width="5" height="5" fill="#cecece"/><rect x="483" y="454" width="5" height="5" fill="#dcdcdc"/><rect x="488" y="444" width="5" height="5" fill="#e6e6e6"/><rect x="488" y="449" width="5" height="5" fill="#bababa"/><rect x="488" y="454" width="5" height="5" fill="#e6e6e6"/><rect x="453" y="449" width="5" height="5" fill="#ececec"/><rect x="418" y="494" width="5" height="5" fill="#e6e6e6"/><rect x="418" y="499" width="5" height="5" fill="#bababa"/><rect x="418" y="504" width="5" height="5" fill="#e0e0e0"/><rect x="423" y="494" width="5" height="5" fill="#f1f1f1"/><rect x="423" y="499" width="5" height="5" fill="#cecece"/><rect x="423" y="504" width="5" height="5" fill="#d8d8d8"/><rect x="428" y="494" width="5" height="5" fill="#f1f1f1"/><rect x="428" y="499" width="5" height="5" fill="#bcbcbc"/><rect x="428" y="504" width="5" height="5" fill="#e6e6e6"/><rect x="433" y="494" width="5" height="5" fill="#ececec"/><rect x="433" y="499" width="5" height="5" fill="#cecece"/><rect x="433" y="504" width="5" height="5" fill="#e6e6e6"/><rect x="438" y="494" width="5" height="5" fill="#f8f8f8"/><rect x="438" y="499" width="5" height="5" fill="#bababa"/><rect x="438" y="504" width="5" height="5" fill="#e0e0e0"/><rect x="443" y="494" width="5" height="5" fill="#f8f8f8"/><rect x="443" y="499" width="5" height="5" fill="#c8c8c8"/><rect x="443" y="504" width="5" height="5" fill="#d8d8d8"/><rect x="448" y="494" width="5" height="5" fill="#f8f8f8"/><rect x="448" y="499" width="5" height="5" fill="#b2b2b2"/><rect x="448" y="504" width="5" height="5" fill="#e0e0e0"/><rect x="458" y="494" width="5" height="5" fill="#f1f1f1"/><rect x="458" y="499" width="5" height="5" fill="#bababa"/><rect x="458" y="504" width="5" height="5" fill="#e6e6e6"/><rect x="463" y="494" width="5" height="5" fill="#ececec"/><rect x="463" y="499" width="5" height="5" fill="#c8c8c8"/><rect x="463" y="504" width="5" height="5" fill="#dcdcdc"/><rect x="468" y="494" width="5" height="5" fill="#e6e6e6"/><rect x="468" y="499" width="5" height="5" fill="#bababa"/><rect x="468" y="504" width="5" height="5" fill="#dcdcdc"/><rect x="473" y="494" width="5" height="5" fill="#e6e6e6"/><rect x="473" y="499" width="5" height="5" fill="#b2b2b2"/><rect x="473" y="504" width="5" height="5" fill="#dcdcdc"/><rect x="478" y="494" width="5" height="5" fill="#e6e6e6"/><rect x="478" y="499" width="5" height="5" fill="#bababa"/><rect x="478" y="504" width="5" height="5" fill="#eaeaea"/><rect x="483" y="494" width="5" height="5" fill="#ececec"/><rect x="483" y="499" width="5" height="5" fill="#bcbcbc"/><rect x="483" y="504" width="5" height="5" fill="#e0e0e0"/><rect x="453" y="499" width="5" height="5" fill="#ececec"/><rect x="418" y="544" width="5" height="5" fill="#ececec"/><rect x="418" y="549" width="5" height="5" fill="#cecece"/><rect x="418" y="554" width="5" height="5" fill="#e6e6e6"/><rect x="423" y="544" width="5" height="5" fill="#f1f1f1"/><rect x="423" y="549" width="5" height="5" fill="#b2b2b2"/><rect x="423" y="554" width="5" height="5" fill="#dcdcdc"/><rect x="428" y="544" width="5" height="5" fill="#e6e6e6"/><rect x="428" y="549" width="5" height="5" fill="#cecece"/><rect x="428" y="554" width="5" height="5" fill="#eaeaea"/><rect x="433" y="544" width="5" height="5" fill="#ececec"/><rect x="433" y="549" width="5" height="5" fill="#bcbcbc"/><rect x="433" y="554" width="5" height="5" fill="#dcdcdc"/><rect x="438" y="544" width="5" height="5" fill="#e6e6e6"/><rect x="438" y="549" width="5" height="5" fill="#c2c2c2"/><rect x="438" y="554" width="5" height="5" fill="#dcdcdc"/><rect x="443" y="544" width="5" height="5" fill="#f8f8f8"/><rect x="443" y="549" width="5" height="5" fill="#bcbcbc"/><rect x="443" y="554" width="5" height="5" fill="#dcdcdc"/><rect x="448" y="544" width="5" height="5" fill="#f1f1f1"/><rect x="448" y="549" width="5" height="5" fill="#cecece"/><rect x="448" y="554" width="5" height="5" fill="#d8d8d8"/><rect x="453" y="544" width="5" height="5" fill="#ececec"/><rect x="453" y="549" width="5" height="5" fill="#bcbcbc"/><rect x="453" y="554" width="5" height="5" fill="#e0e0e0"/><rect x="458" y="544" width="5" height="5" fill="#f6f6f6"/><rect x="458" y="549" width="5" height="5" fill="#b2b2b2"/><rect x="458" y="554" width="5" height="5" fill="#d8d8d8"/><rect x="463" y="544" width="5" height="5" fill="#ececec"/><rect x="463" y="549" width="5" height="5" fill="#c2c2c2"/><rect x="463" y="554" width="5" height="5" fill="#eaeaea"/><rect x="468" y="544" width="5" height="5" fill="#ececec"/><rect x="468" y="549" width="5" height="5" fill="#c8c8c8"/><rect x="468" y="554" width="5" height="5" fill="#e6e6e6"/><rect x="473" y="544" width="5" height="5" fill="#ececec"/><rect x="473" y="549" width="5" height="5" fill="#bababa"/><rect x="473" y="554" width="5" height="5" fill="#dcdcdc"/><rect x="478" y="544" width="5" height="5" fill="#f6f6f6"/><rect x="478" y="549" width="5" height="5" fill="#c2c2c2"/><rect x="478" y="554" width="5" height="5" fill="#d8d8d8"/><rect x="483" y="544" width="5" height="5" fill="#f1f1f1"/><rect x="483" y="549" width="5" height="5" fill="#b2b2b2"/><rect x="483" y="554" width="5" height="5" fill="#dcdcdc"/><rect x="488" y="544" width="5" height="5" fill="#f8f8f8"/><rect x="488" y="549" width="5" height="5" fill="#cecece"/><rect x="488" y="554" width="5" height="5" fill="#eaeaea"/><rect x="418" y="594" width="5" height="5" fill="#f6f6f6"/><rect x="418" y="599" width="5" height="5" fill="#c8c8c8"/><rect x="418" y="604" width="5" height="5" fill="#e6e6e6"/><rect x="423" y="594" width="5" height="5" fill="#f6f6f6"/><rect x="423" y="599" width="5" height="5" fill="#bcbcbc"/><rect x="423" y="604" width="5" height="5" fill="#e0e0e0"/><rect x="428" y="594" width="5" height="5" fill="#f8f8f8"/><rect x="428" y="599" width="5" height="5" fill="#bcbcbc"/><rect x="428" y="604" width="5" height="5" fill="#dcdcdc"/><rect x="433" y="594" width="5" height="5" fill="#f8f8f8"/><rect x="433" y="599" width="5" height="5" fill="#c2c2c2"/><rect x="433" y="604" width="5" height="5" fill="#d8d8d8"/><rect x="438" y="594" width="5" height="5" fill="#ececec"/><rect x="438" y="599" width="5" height="5" fill="#bababa"/><rect x="438" y="604" width="5" height="5" fill="#d8d8d8"/><rect x="443" y="594" width="5" height="5" fill="#f8f8f8"/><rect x="443" y="599" width="5" height="5" fill="#c8c8c8"/><rect x="443" y="604" width="5" height="5" fill="#e0e0e0"/><rect x="453" y="594" width="5" height="5" fill="#f1f1f1"/><rect x="453" y="599" width="5" height="5" fill="#c2c2c2"/><rect x="453" y="604" width="5" height="5" fill="#dcdcdc"/><rect x="458" y="594" width="5" height="5" fill="#f6f6f6"/><rect x="458" y="599" width="5" height="5" fill="#c2c2c2"/><rect x="458" y="604" width="5" height="5" fill="#eaeaea"/><rect x="463" y="594" width="5" height="5" fill="#f8f8f8"/><rect x="463" y="599" width="5" height="5" fill="#bcbcbc"/><rect x="463" y="604" width="5" height="5" fill="#dcdcdc"/><rect x="468" y="594" width="5" height="5" fill="#e6e6e6"/><rect x="468" y="599" width="5" height="5" fill="#cecece"/><rect x="468" y="604" width="5" height="5" fill="#d8d8d8"/><rect x="473" y="594" width="5" height="5" fill="#ececec"/><rect x="473" y="599" width="5" height="5" fill="#c2c2c2"/><rect x="473" y="604" width="5" height="5" fill="#eaeaea"/><rect x="448" y="599" width="5" height="5" fill="#ececec"/><rect x="418" y="644" width="5" height="5" fill="#e6e6e6"/><rect x="418" y="649" width="5" height="5" fill="#c2c2c2"/><rect x="418" y="654" width="5" height="5" fill="#e0e0e0"/><rect x="423" y="644" width="5" height="5" fill="#f6f6f6"/><rect x="423" y="649" width="5" height="5" fill="#bcbcbc"/><rect x="423" y="654" width="5" height="5" fill="#e0e0e0"/><rect x="428" y="644" width="5" height="5" fill="#e6e6e6"/><rect x="428" y="649" width="5" height="5" fill="#bcbcbc"/><rect x="428" y="654" width="5" height="5" fill="#dcdcdc"/><rect x="433" y="644" width="5" height="5" fill="#f8f8f8"/><rect x="433" y="649" width="5" height="5" fill="#c2c2c2"/><rect x="433" y="654" width="5" height="5" fill="#dcdcdc"/><rect x="438" y="644" width="5" height="5" fill="#f6f6f6"/><rect x="438" y="649" width="5" height="5" fill="#b2b2b2"/><rect x="438" y="654" width="5" height="5" fill="#dcdcdc"/><rect x="443" y="644" width="5" height="5" fill="#ececec"/><rect x="443" y="649" width="5" height="5" fill="#cecece"/><rect x="443" y="654" width="5" height="5" fill="#dcdcdc"/><rect x="448" y="644" width="5" height="5" fill="#e6e6e6"/><rect x="448" y="649" width="5" height="5" fill="#b2b2b2"/><rect x="448" y="654" width="5" height="5" fill="#e6e6e6"/><rect x="453" y="644" width="5" height="5" fill="#e6e6e6"/><rect x="453" y="649" width="5" height="5" fill="#c8c8c8"/><rect x="453" y="654" width="5" height="5" fill="#dcdcdc"/><rect x="458" y="644" width="5" height="5" fill="#f6f6f6"/><rect x="458" y="649" width="5" height="5" fill="#bcbcbc"/><rect x="458" y="654" width="5" height="5" fill="#e6e6e6"/><rect x="463" y="644" width="5" height="5" fill="#f8f8f8"/><rect x="463" y="649" width="5" height="5" fill="#bcbcbc"/><rect x="463" y="654" width="5" height="5" fill="#eaeaea"/><rect x="468" y="644" width="5" height="5" fill="#e6e6e6"/><rect x="468" y="649" width="5" height="5" fill="#c8c8c8"/><rect x="468" y="654" width="5" height="5" fill="#eaeaea"/><rect x="473" y="644" width="5" height="5" fill="#f1f1f1"/><rect x="473" y="649" width="5" height="5" fill="#cecece"/><rect x="473" y="654" width="5" height="5" fill="#dcdcdc"/><rect x="478" y="644" width="5" height="5" fill="#e6e6e6"/><rect x="478" y="649" width="5" height="5" fill="#cecece"/><rect x="478" y="654" width="5" height="5" fill="#e0e0e0"/><rect x="483" y="644" width="5" height="5" fill="#f8f8f8"/><rect x="483" y="649" width="5" height="5" fill="#c2c2c2"/><rect x="483" y="654" width="5" height="5" fill="#eaeaea"/><rect x="488" y="644" width="5" height="5" fill="#f6f6f6"/><rect x="488" y="649" width="5" height="5" fill="#c2c2c2"/><rect x="488" y="654" width="5" height="5" fill="#dcdcdc"/><rect x="478" y="660" width="10" height="5" fill="#f0f0f0"/><rect x="673" y="298" width="5" height="11" fill="#d2d2d2"/><rect x="678" y="298" width="5" height="11" fill="#b8b8b8"/><rect x="683" y="298" width="5" height="11" fill="#c6c6c6"/><rect x="688" y="298" width="5" height="11" fill="#f0f0f0"/><rect x="738" y="298" width="5" height="11" fill="#d8d8d8"/><rect x="743" y="298" width="5" height="11" fill="#dadada"/><rect x="798" y="298" width="5" height="11" fill="#f6f6f6"/><rect x="803" y="298" width="5" height="11" fill="#bcbcbc"/><rect x="808" y="298" width="5" height="11" fill="#f8f8f8"/><rect x="858" y="298" width="5" height="11" fill="#d6d6d6"/><rect x="863" y="298" width="5" height="11" fill="#b8b8b8"/><rect x="868" y="298" width="5" height="11" fill="#dadada"/><rect x="873" y="298" width="5" height="11" fill="#dcdcdc"/><rect x="673" y="348" width="5" height="11" fill="#d2d2d2"/><rect x="678" y="348" width="5" height="11" fill="#b8b8b8"/><rect x="683" y="348" width="5" height="11" fill="#c6c6c6"/><rect x="688" y="348" width="5" height="11" fill="#f0f0f0"/><rect x="738" y="348" width="5" height="11" fill="#d8d8d8"/><rect x="743" y="348" width="5" height="11" fill="#dadada"/><rect x="798" y="348" width="5" height="11" fill="#f6f6f6"/><rect x="803" y="348" width="5" height="11" fill="#bcbcbc"/><rect x="808" y="348" width="5" height="11" fill="#f8f8f8"/><rect x="858" y="348" width="5" height="11" fill="#d6d6d6"/><rect x="863" y="348" width="5" height="11" fill="#b8b8b8"/><rect x="868" y="348" width="5" height="11" fill="#dadada"/><rect x="873" y="348" width="5" height="11" fill="#dcdcdc"/><rect x="673" y="398" width="5" height="11" fill="#d2d2d2"/><rect x="678" y="398" width="5" height="11" fill="#b8b8b8"/><rect x="683" y="398" width="5" height="11" fill="#c6c6c6"/><rect x="688" y="398" width="5" height="11" fill="#f0f0f0"/><rect x="738" y="398" width="5" height="11" fill="#d8d8d8"/><rect x="743" y="398" width="5" height="11" fill="#dadada"/><rect x="798" y="398" width="5" height="11" fill="#f6f6f6"/><rect x="803" y="398" width="5" height="11" fill="#bcbcbc"/><rect x="808" y="398" width="5" height="11" fill="#f8f8f8"/><rect x="858" y="398" width="5" height="11" fill="#d6d6d6"/><rect x="863" y="398" width="5" height="11" fill="#b8b8b8"/><rect x="868" y="398" width="5" height="11" fill="#dadada"/><rect x="873" y="398" width="5" height="11" fill="#dcdcdc"/><rect x="673" y="448" width="5" height="11" fill="#d2d2d2"/><rect x="678" y="448" width="5" height="11" fill="#b8b8b8"/><rect x="683" y="448" width="5" height="11" fill="#c6c6c6"/><rect x="688" y="448" width="5" height="11" fill="#f0f0f0"/><rect x="738" y="448" width="5" height="11" fill="#d8d8d8"/><rect x="743" y="448" width="5" height="11" fill="#dadada"/><rect x="798" y="448" width="5" height="11" fill="#f6f6f6"/><rect x="803" y="448" width="5" height="11" fill="#bcbcbc"/><rect x="808" y="448" width="5" height="11" fill="#f8f8f8"/><rect x="858" y="448" width="5" height="11" fill="#d6d6d6"/><rect x="863" y="448" width="5" height="11" fill="#b8b8b8"/><rect x="868" y="448" width="5" height="11" fill="#dadada"/><rect x="873" y="448" width="5" height="11" fill="#dcdcdc"/><rect x="673" y="498" width="5" height="11" fill="#d2d2d2"/><rect x="678" y="498" width="5" height="11" fill="#b8b8b8"/><rect x="683" y="498" width="5" height="11" fill="#c6c6c6"/><rect x="688" y="498" width="5" height="11" fill="#f0f0f0"/><rect x="738" y="498" width="5" height="11" fill="#d8d8d8"/><rect x="743" y="498" width="5" height="11" fill="#dadada"/><rect x="798" y="498" width="5" height="11" fill="#f6f6f6"/><rect x="803" y="498" width="5" height="11" fill="#bcbcbc"/><rect x="808" y="498" width="5" height="11" fill="#f8f8f8"/><rect x="858" y="498" width="5" height="11" fill="#d6d6d6"/><rect x="863" y="498" width="5" height="11" fill="#b8b8b8"/><rect x="868" y="498" width="5" height="11" fill="#dadada"/><rect x="873" y="498" width="5" height="11" fill="#dcdcdc"/><rect x="673" y="548" width="5" height="11" fill="#d2d2d2"/><rect x="678" y="548" width="5" height="11" fill="#b8b8b8"/><rect x="683" y="548" width="5" height="11" fill="#c6c6c6"/><rect x="688" y="548" width="5" height="11" fill="#f0f0f0"/><rect x="738" y="548" width="5" height="11" fill="#d8d8d8"/><rect x="743" y="548" width="5" height="11" fill="#dadada"/><rect x="798" y="548" width="5" height="11" fill="#f6f6f6"/><rect x="803" y="548" width="5" height="11" fill="#bcbcbc"/><rect x="808" y="548" width="5" height="11" fill="#f8f8f8"/><rect x="858" y="548" width="5" height="11" fill="#d6d6d6"/><rect x="863" y="548" width="5" height="11" fill="#b8b8b8"/><rect x="868" y="548" width="5" height="11" fill="#dadada"/><rect x="873" y="548" width="5" height="11" fill="#dcdcdc"/><rect x="673" y="598" width="5" height="11" fill="#d2d2d2"/><rect x="678" y="598" width="5" height="11" fill="#b8b8b8"/><rect x="683" y="598" width="5" height="11" fill="#c6c6c6"/><rect x="688" y="598" width="5" height="11" fill="#f0f0f0"/><rect x="738" y="598" width="5" height="11" fill="#d8d8d8"/><rect x="743" y="598" width="5" height="11" fill="#dadada"/><rect x="798" y="598" width="5" height="11" fill="#f6f6f6"/><rect x="803" y="598" width="5" height="11" fill="#bcbcbc"/><rect x="808" y="598" width="5" height="11" fill="#f8f8f8"/><rect x="858" y="598" width="5" height="11" fill="#d6d6d6"/><rect x="863" y="598" width="5" height="11" fill="#b8b8b8"/><rect x="868" y="598" width="5" height="11" fill="#dadada"/><rect x="873" y="598" width="5" height="11" fill="#dcdcdc"/><rect x="673" y="648" width="5" height="11" fill="#d2d2d2"/><rect x="678" y="648" width="5" height="11" fill="#b8b8b8"/><rect x="683" y="648" width="5" height="11" fill="#c6c6c6"/><rect x="688" y="648" width="5" height="11" fill="#f0f0f0"/><rect x="738" y="648" width="5" height="11" fill="#d8d8d8"/><rect x="743" y="648" width="5" height="11" fill="#dadada"/><rect x="798" y="648" width="5" height="11" fill="#f6f6f6"/><rect x="803" y="648" width="5" height="11" fill="#bcbcbc"/><rect x="808" y="648" width="5" height="11" fill="#f8f8f8"/><rect x="858" y="648" width="5" height="11" fill="#d6d6d6"/><rect x="863" y="648" width="5" height="11" fill="#b8b8b8"/><rect x="868" y="648" width="5" height="11" fill="#dadada"/><rect x="873" y="648" width="5" height="11" fill="#dcdcdc"/>
</g>
<defs><filter id="bl" x="0" y="0" width="892" height="689" filterUnits="userSpaceOnUse"><feGaussianBlur stdDeviation="0.7"/></filter></defs>
</svg>
<div class="abs" id="bluehd"></div>
<div class="abs" id="aug">AUG 2022</div>
<div class="abs col" style="left:650px">AVL</div>
<div class="abs col" style="left:712px">PLN</div>
<div class="abs col" style="left:774px">ACT</div>
<div class="abs col" style="left:836px">DIF</div>
<!-- toolbar -->
<div class="abs btn" style="left:90px;width:26px;border-radius:2px 0 0 2px">
<svg class="abs" style="left:4.6px;top:7px" width="16" height="16" viewBox="0 0 16 16"><path d="M1.6 1.7h11.8l-4.3 5.8v5.5l-2.2 1.3l-1-.3v-6.5z" fill="none" stroke="#3f5590" stroke-width="1.1" stroke-linejoin="round"/></svg>
</div>
<div class="abs btn" style="left:115px;width:140px;border-radius:0 2px 2px 0"><span style="left:16px">*New Filter</span>
<svg class="abs" style="left:112px;top:11px" width="12" height="8" viewBox="0 0 12 8"><path d="M2.4 2.3l3.6 3.4l3.6-3.4" fill="none" stroke="#3b4f85" stroke-width="1.3" stroke-linecap="round" stroke-linejoin="round"/></svg></div>
<div class="abs btn" style="left:271px;width:165px"><span style="left:16px;letter-spacing:-0.15px">View by User</span>
<svg class="abs" style="left:137px;top:11px" width="12" height="8" viewBox="0 0 12 8"><path d="M2.4 2.3l3.6 3.4l3.6-3.4" fill="none" stroke="#3b4f85" stroke-width="1.3" stroke-linecap="round" stroke-linejoin="round"/></svg></div>
<div class="abs btn" style="left:444px;width:64px;border-radius:2px 0 0 2px;text-align:center">Week</div>
<div class="abs btn dis" style="left:507px;width:70px;border-radius:0;text-align:center">Month</div>
<div class="abs btn" style="left:576px;width:76px;border-radius:0 2px 2px 0;text-align:center">Quarter</div>
<div class="abs btn" style="left:660px;width:24px;border-radius:2px 0 0 2px">
<svg class="abs" style="left:6px;top:8px" width="10" height="14" viewBox="0 0 10 14"><path d="M7.5 2l-5 5l5 5" fill="none" stroke="#4464a8" stroke-width="1.1" stroke-linecap="round" stroke-linejoin="round"/></svg></div>
<div class="abs btn dis" style="left:683px;width:67px;border-radius:0;text-align:center">Today</div>
<div class="abs btn" style="left:749px;width:24px;border-radius:0 2px 2px 0">
<svg class="abs" style="left:6px;top:8px" width="10" height="14" viewBox="0 0 10 14"><path d="M2.5 2l5 5l-5 5" fill="none" stroke="#4464a8" stroke-width="1.1" stroke-linecap="round" stroke-linejoin="round"/></svg></div>
<div class="abs btn" style="left:781px;width:85px"><span style="left:17px">Hours</span>
<svg class="abs" style="left:58px;top:11px" width="12" height="8" viewBox="0 0 12 8"><path d="M2.4 2.3l3.6 3.4l3.6-3.4" fill="none" stroke="#3b4f85" stroke-width="1.3" stroke-linecap="round" stroke-linejoin="round"/></svg></div>
<!-- menu -->
<div class="abs" id="menu">
<div class="abs mi" style="top:0">View by Project</div>
<div class="abs mi" style="top:26px">View by Role</div>
<div class="abs mi" style="top:52px;background:#ededed;height:26px">View by User</div>
</div>
<div class="abs" id="leftbar"></div>
</div></body></html>
